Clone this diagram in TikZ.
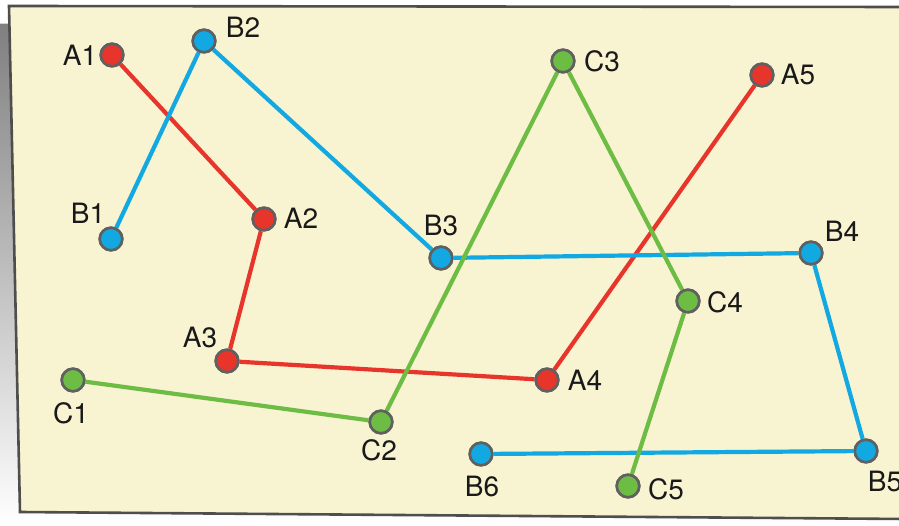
\documentclass[tikz,border=0pt]{standalone}
\usepackage{fontspec}
\setmainfont{TeX Gyre Heros}
\definecolor{cream}{HTML}{F8F3D1}
\definecolor{shade}{HTML}{BAC4C7}
\definecolor{rim}{HTML}{4E4E4E}
\definecolor{redline}{HTML}{E8352B}
\definecolor{blueline}{HTML}{12A9E2}
\definecolor{greenline}{HTML}{6DBD45}
\tikzset{
  dot/.style={circle, minimum size=22.5pt, inner sep=0pt, line width=2.6pt, draw=rim!90},
  rdot/.style={dot, fill=redline},
  bdot/.style={dot, fill=blueline},
  gdot/.style={dot, fill=greenline},
  lbl/.style={font=\fontsize{28}{28}\selectfont, text=black!90, inner sep=0pt},
  redway/.style={draw=redline, line width=4.2pt},
  blueway/.style={draw=blueline, line width=4.2pt},
  greenway/.style={draw=greenline, line width=4.2pt},
}
\begin{document}
\begin{tikzpicture}[x=1pt,y=-1pt]
\useasboundingbox (0,0) rectangle (899,526);
\fill[white] (0,0) rectangle (899,526);
% shadow under the card
\fill[shade] (0,24) -- (12,24) -- (899,30) -- (899,526) -- (0,526) -- cycle;
% the card
\filldraw[fill=cream, draw=rim, line width=2.6pt]
  (9,6) -- (905,7) -- (905,519) -- (20,512) -- cycle;

% points
\node[rdot] (A1) at (112,55) {};
\node[rdot] (A2) at (264,219) {};
\node[rdot] (A3) at (227,361) {};
\node[rdot] (A4) at (547,380) {};
\node[rdot] (A5) at (762,75) {};
\node[bdot] (B1) at (111,239) {};
\node[bdot] (B2) at (204,41) {};
\node[bdot] (B3) at (441,258) {};
\node[bdot] (B4) at (811,253) {};
\node[bdot] (B5) at (866,451) {};
\node[bdot] (B6) at (481,454) {};
\node[gdot] (C1) at (73,380) {};
\node[gdot] (C2) at (381,422) {};
\node[gdot] (C3) at (563,61) {};
\node[gdot] (C4) at (688,301) {};
\node[gdot] (C5) at (628,486) {};

% connecting lines
\path[redway] (A1) -- (A2) -- (A3) -- (A4) -- (A5);
\path[blueway] (B1) -- (B2) -- (B3) -- (B4) -- (B5) -- (B6);
\path[greenway] (C1) -- (C2) -- (C3) -- (C4) -- (C5);

% points again, over the line ends
\foreach \n/\s in {A1/rdot,A2/rdot,A3/rdot,A4/rdot,A5/rdot,
  B1/bdot,B2/bdot,B3/bdot,B4/bdot,B5/bdot,B6/bdot,
  C1/gdot,C2/gdot,C3/gdot,C4/gdot,C5/gdot}
  \node[\s] at (\n.center) {};

% labels
\node[lbl] (tA1) at (80,55) {A1};
\node[lbl] (tA2) at (301,218) {A2};
\node[lbl] (tA3) at (200,338) {A3};
\node[lbl] (tA4) at (585,380) {A4};
\node[lbl] (tA5) at (798,75) {A5};
\node[lbl] (tB1) at (88,213) {B1};
\node[lbl] (tB2) at (243,27) {B2};
\node[lbl] (tB3) at (441,226) {B3};
\node[lbl] (tB4) at (842,231) {B4};
\node[lbl] (tB5) at (885,482) {B5};
\node[lbl] (tB6) at (482,487) {B6};
\node[lbl] (tC1) at (71,413) {C1};
\node[lbl] (tC2) at (379,450) {C2};
\node[lbl] (tC3) at (602,61) {C3};
\node[lbl] (tC4) at (725,302) {C4};
\node[lbl] (tC5) at (666,489) {C5};
\end{tikzpicture}
\end{document}
